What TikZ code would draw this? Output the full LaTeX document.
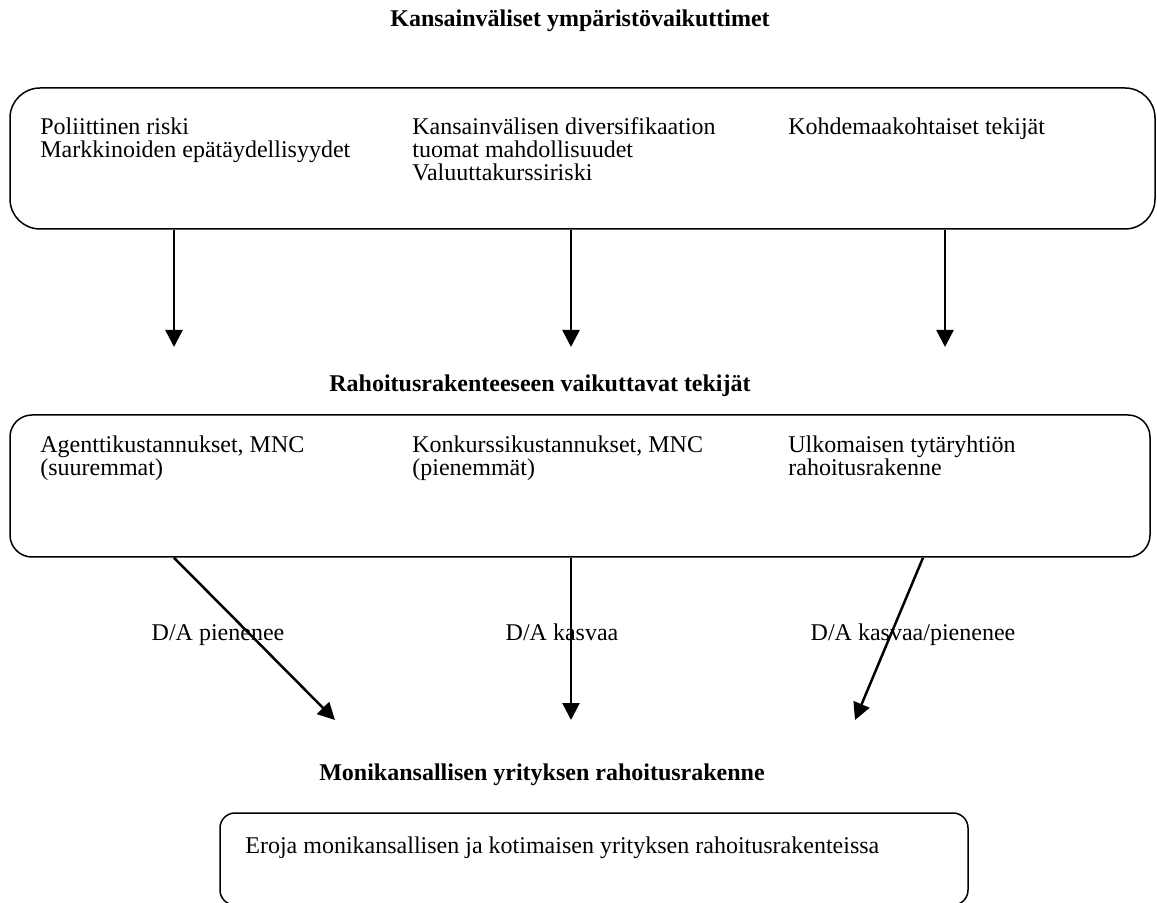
\documentclass[tikz,border=0pt]{standalone}
\usepackage{fontspec}
\setmainfont{Liberation Serif}
\usetikzlibrary{arrows.meta}

\begin{document}
\begin{tikzpicture}[
    x=0.5pt, y=-0.5pt,
    panel/.style={draw, line width=0.75pt, inner sep=0pt},
    heading/.style={anchor=base, inner sep=0pt, font=\fontsize{12}{14}\selectfont\bfseries},
    item/.style={anchor=north west, align=left, inner sep=0pt, font=\fontsize{12}{11.5}\selectfont},
    effect/.style={anchor=base, inner sep=0pt, font=\fontsize{12}{14}\selectfont},
    link/.style={draw, line width=1.25pt, -{Triangle[length=8.5pt, width=8.5pt]}}
]
    \useasboundingbox (0,0) rectangle (1157,903);

    % ympäristö
    \node[heading] (envtitle) at (580,27) {Kansainväliset ympäristövaikuttimet};
    \node[panel, minimum width=572.5pt, minimum height=70.5pt, rounded corners=15pt] (envbox) at (582.5,158.5) {};
    \node[item] (politics) at (40,117) {Poliittinen riski\\Markkinoiden epätäydellisyydet};
    \node[item] (divers)   at (412,117) {Kansainvälisen diversifikaation\\tuomat mahdollisuudet\\Valuuttakurssiriski};
    \node[item] (host)     at (788,117) {Kohdemaakohtaiset tekijät};

    \coordinate (e1) at (174,347);
    \coordinate (e2) at (571,347);
    \coordinate (e3) at (945,347);
    \draw[link] (e1 |- envbox.south) -- (e1);
    \draw[link] (e2 |- envbox.south) -- (e2);
    \draw[link] (e3 |- envbox.south) -- (e3);

    % tekijät
    \node[heading] (facttitle) at (540,392) {Rahoitusrakenteeseen vaikuttavat tekijät};
    \node[panel, minimum width=570pt, minimum height=71pt, rounded corners=11pt] (factbox) at (580,486) {};
    \node[item] (agency)  at (40,435) {Agenttikustannukset, MNC\\(suuremmat)};
    \node[item] (bankr)   at (412,435) {Konkurssikustannukset, MNC\\(pienemmät)};
    \node[item] (subsid)  at (788,435) {Ulkomaisen tytäryhtiön\\rahoitusrakenne};

    \coordinate (f1) at (174,0);
    \coordinate (f2) at (571,0);
    \coordinate (f3) at (923,0);
    \coordinate (s1) at (335,720);
    \coordinate (s2) at (571,720);
    \coordinate (s3) at (855,720);
    \draw[link] (f1 |- factbox.south) -- (s1);
    \draw[link] (f2 |- factbox.south) -- (s2);
    \draw[link] (f3 |- factbox.south) -- (s3);

    \node[effect] (dadown) at (218,640) {D/A pienenee};
    \node[effect] (daup)   at (562,640) {D/A kasvaa};
    \node[effect] (daboth) at (913,640) {D/A kasvaa/pienenee};

    % rahoitusrakenne
    \node[heading] (structtitle) at (542,780) {Monikansallisen yrityksen rahoitusrakenne};
    \node[panel, minimum width=374pt, minimum height=46pt, rounded corners=7.5pt] (structbox) at (594,859) {};
    \node[item] (gaps) at (245,836) {Eroja monikansallisen ja kotimaisen yrityksen rahoitusrakenteissa};
\end{tikzpicture}
\end{document}
